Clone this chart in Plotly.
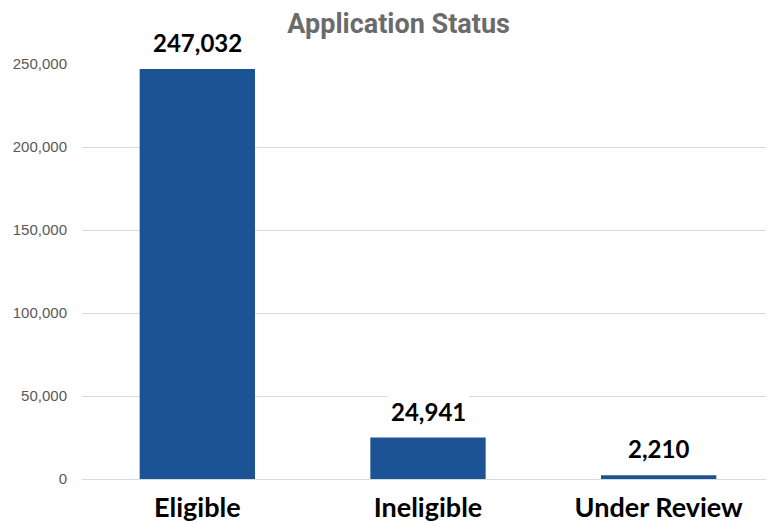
import plotly.graph_objects as go

categories = ["Eligible", "Ineligible", "Under Review"]
counts = [247032, 24941, 2210]
tick_vals = [0, 50000, 100000, 150000, 200000, 250000]
tick_text = ["0", "50,000", "100,000", "150,000", "200,000", "250,000"]

fig = go.Figure()
fig.add_trace(go.Bar(
    x=categories,
    y=counts,
    marker=dict(color="#1c5395", line=dict(width=0)),
    hoverinfo="x+y",
))

# value labels on white boxes that cut through the gridlines
for cat, val in zip(categories, counts):
    fig.add_annotation(
        x=cat, y=val, text="<b>{:,}</b>".format(val),
        showarrow=False, yanchor="bottom", yshift=8,
        font=dict(family="Lato", size=24, color="black"),
        bgcolor="white", borderpad=3,
    )

fig.update_xaxes(
    tickfont=dict(family="Lato", size=27, color="black", weight="bold"),
    showgrid=False, showline=False, ticklabelstandoff=10,
)
fig.update_yaxes(
    range=[0, 250000], tickvals=tick_vals, ticktext=tick_text,
    tickfont=dict(family="Liberation Sans", size=15, color="#595959"),
    showgrid=True, gridcolor="#d9d9d9", gridwidth=1,
    zeroline=True, zerolinecolor="#d9d9d9", zerolinewidth=1,
    ticklabelstandoff=14,
)

# page body adds an 8px offset, so the figure is sized to the visible area
fig.update_layout(
    width=766, height=517,
    bargap=0.5,
    margin=dict(l=74, r=0, t=56, b=46),
    plot_bgcolor="white",
    paper_bgcolor="white",
    showlegend=False,
    title=dict(
        text="<b>Application Status</b>", x=0.51, xanchor="center", y=0.97, yanchor="middle",
        font=dict(family="Roboto", size=27, color="#6b6b6b"),
    ),
)

fig.write_html("out.html")
